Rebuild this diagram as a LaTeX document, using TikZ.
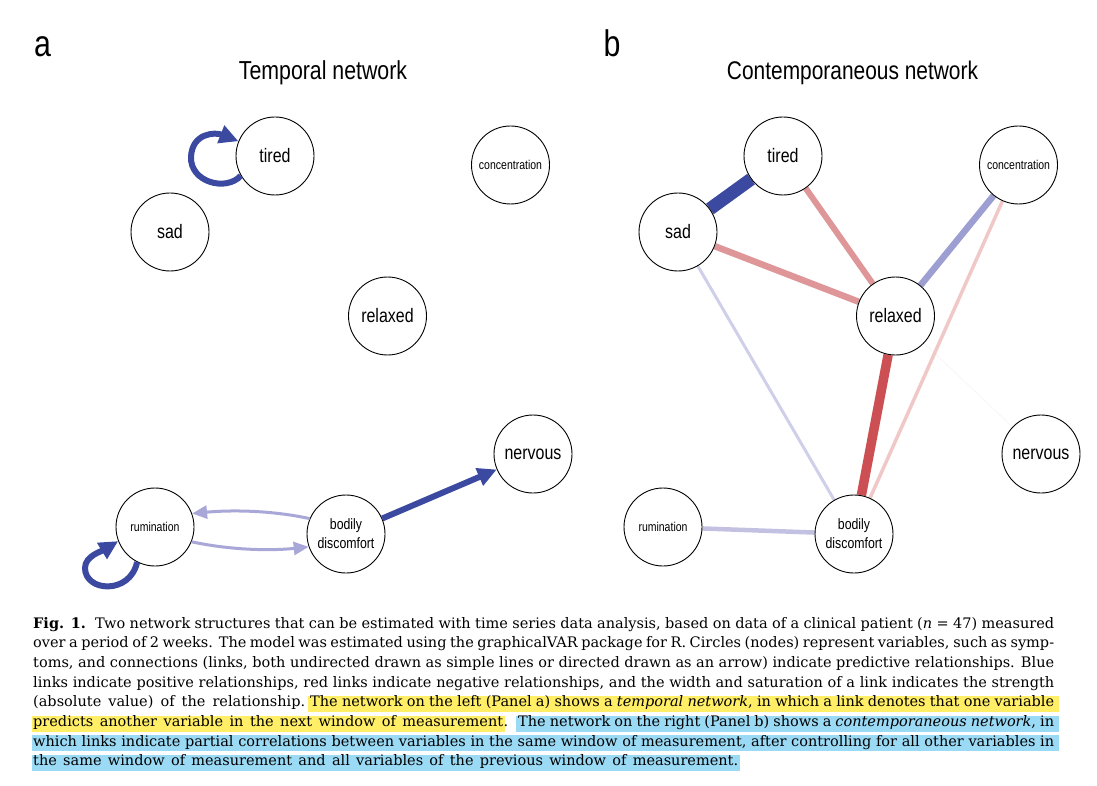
\documentclass[tikz,border=0pt]{standalone}
\usepackage{fontspec}
\setmainfont{Liberation Sans}
\newfontfamily\narrow[FakeStretch=0.82]{Liberation Sans}
\newfontfamily\capfont{DejaVu Serif}
\usetikzlibrary{arrows.meta,backgrounds}
\definecolor{dblue}{RGB}{59,74,160}
\definecolor{lpurple}{RGB}{169,167,215}
\definecolor{pinkred}{RGB}{222,150,152}
\definecolor{medblue}{RGB}{157,158,209}
\definecolor{lpink}{RGB}{240,200,200}
\definecolor{lav}{RGB}{208,207,233}
\definecolor{strongred}{RGB}{204,80,83}
\definecolor{faintedge}{RGB}{246,242,242}
\definecolor{rumlav}{RGB}{195,193,226}
\definecolor{hlyellow}{RGB}{255,238,102}
\definecolor{hlblue}{RGB}{155,218,245}
\tikzset{
  vnode/.style={circle, draw=black, line width=0.9pt, fill=white, minimum size=78pt, inner sep=0pt, text=black},
  biglab/.style={font=\narrow\fontsize{19.5}{22}\selectfont},
  smalllab/.style={font=\narrow\fontsize{12.8}{14}\selectfont},
  midlab/.style={font=\narrow\fontsize{15}{19}\selectfont, align=center},
  paneltitle/.style={font=\narrow\fontsize{26}{30}\selectfont, inner sep=0pt, anchor=base},
  panelletter/.style={font=\narrow\fontsize{37}{40}\selectfont, inner sep=0pt, anchor=base},
  dloop/.style={draw=dblue, line width=6pt, -{Triangle[length=19pt,width=18pt]}},
  darrow/.style={draw=dblue, line width=6pt, -{Triangle[length=19pt,width=18pt]}},
  larrow/.style={draw=lpurple, line width=3pt, -{Triangle[length=15pt,width=13pt]}},
  capt/.style={font=\capfont\fontsize{14.5}{17}\selectfont, inner sep=0pt, anchor=base west, text=black},
}
\begin{document}
\begin{tikzpicture}[x=1pt,y=-1pt]
\useasboundingbox (0,0) rectangle (1097,786);

% panel letters and titles
\node[panelletter] (la) at (42.5,57) {a};
\node[panelletter] (lb) at (612,57) {b};
\node[paneltitle] (ta) at (323,80) {Temporal network};
\node[paneltitle, font=\narrow\fontsize{25.5}{30}\selectfont] (tb) at (852.5,80) {Contemporaneous network};

% ---------- panel a nodes
\node[vnode, biglab] (aT) at (275,156) {tired};
\node[vnode, biglab] (aS) at (170,232) {sad};
\node[vnode, smalllab] (aC) at (510.5,165) {concentration};
\node[vnode, biglab] (aR) at (387.5,316) {relaxed};
\node[vnode, biglab] (aN) at (533,454) {nervous};
\node[vnode, smalllab] (aU) at (155,527) {rumination};
\node[vnode, midlab] (aB) at (346,534) {bodily\\discomfort};

% ---------- panel b nodes
\node[vnode, biglab] (bT) at (783,156) {tired};
\node[vnode, biglab] (bS) at (678,232) {sad};
\node[vnode, smalllab] (bC) at (1018.5,165) {concentration};
\node[vnode, biglab] (bR) at (895.5,316) {relaxed};
\node[vnode, biglab] (bN) at (1041,454) {nervous};
\node[vnode, smalllab] (bU) at (663,527) {rumination};
\node[vnode, midlab] (bB) at (854,534) {bodily\\discomfort};

% ---------- panel a edges
\draw[dloop] (aT.210) .. controls (226,192) and (190,182) .. (191,157) .. controls (192,133) and (215,132) .. (aT.158);
\draw[dloop] (aU.243) .. controls (130,595) and (85,592) .. (85,568) .. controls (85,556) and (102,551) .. (aU.201);
\draw[larrow] (aB.157) .. controls (270,510) and (230,510) .. (aU.20);
\draw[larrow] (aU.338) .. controls (230,550) and (270,551) .. (aB.199);
\draw[darrow] (aB) -- (aN);

% ---------- panel b edges (behind nodes)
\begin{pgfonlayer}{background}
\draw[faintedge, line width=0.6pt] (bR) -- (bN);
\draw[lav, line width=3pt] (bS) -- (bB);
\draw[lpink, line width=3.5pt] (bC) -- (bB);
\draw[rumlav, line width=4.5pt] (bU) -- (bB);
\draw[pinkred, line width=6pt] (bT) -- (bR);
\draw[pinkred, line width=6.5pt] (bS) -- (bR);
\draw[medblue, line width=6.5pt] (bC) -- (bR);
\draw[strongred, line width=9.5pt] (bR) -- (bB);
\draw[dblue, line width=13pt] (bT) -- (bS);

% highlight bands
\fill[hlyellow] (308,695.8) rectangle (1059,711.8);
\fill[hlyellow] (32,715.5) rectangle (505,731.5);
\fill[hlblue] (516,715.5) rectangle (1059,731.5);
\fill[hlblue] (32,735.2) rectangle (1059,751.2);
\fill[hlblue] (32,754.9) rectangle (740,770.9);
\end{pgfonlayer}

% ---------- caption
\node[capt] (c1) at (33,628) {\makebox[1021pt][s]{\textbf{Fig. 1.}\hspace{3pt} Two network structures that can be estimated with time series data analysis, based on data of a clinical patient (\textit{n} = 47) measured}};
\node[capt] (c2) at (33,647.7) {\makebox[1021pt][s]{over a period of 2 weeks. The model was estimated using the graphicalVAR package for R. Circles (nodes) represent variables, such as symp-}};
\node[capt] (c3) at (33,667.4) {\makebox[1021pt][s]{toms, and connections (links, both undirected drawn as simple lines or directed drawn as an arrow) indicate predictive relationships. Blue}};
\node[capt] (c4) at (33,687.1) {\makebox[1021pt][s]{links indicate positive relationships, red links indicate negative relationships, and the width and saturation of a link indicates the strength}};
\node[capt] (c5a) at (33,706.8) {\makebox[272pt][s]{(absolute value) of the relationship.}};
\node[capt] (c5b) at (310,706.8) {\makebox[744pt][s]{The network on the left (Panel a) shows a \textit{temporal network}, in which a link denotes that one variable}};
\node[capt] (c6a) at (33,726.5) {\makebox[470pt][s]{predicts another variable in the next window of measurement}};
\node[capt] (c6p) at (c6a.base east) {.};
\node[capt] (c6b) at (518,726.5) {\makebox[536pt][s]{The network on the right (Panel b) shows a \textit{contemporaneous network}, in}};
\node[capt] (c7) at (33,746.2) {\makebox[1021pt][s]{which links indicate partial correlations between variables in the same window of measurement, after controlling for all other variables in}};
\node[capt] (c8) at (33,765.9) {\makebox[705pt][s]{the same window of measurement and all variables of the previous window of measurement.}};
\end{tikzpicture}
\end{document}
